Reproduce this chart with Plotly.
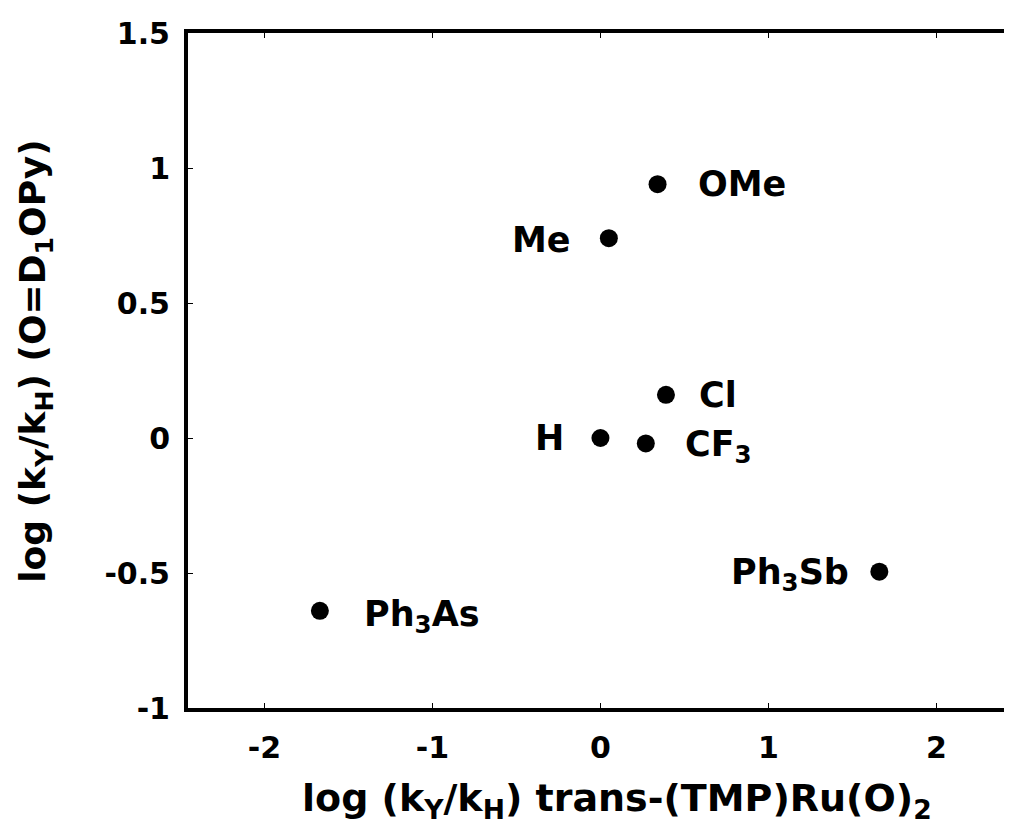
import plotly.graph_objects as go

# Data
labels = ["OMe", "Me", "Cl", "H", "CF<sub>3</sub>", "Ph<sub>3</sub>As", "Ph<sub>3</sub>Sb"]
x_vals = [0.34, 0.05, 0.39, 0.0, 0.27, -1.67, 1.66]
y_vals = [0.94, 0.74, 0.16, 0.0, -0.02, -0.64, -0.495]

x_tickvals = [-2, -1, 0, 1, 2]
x_ticktext = ["-2", "-1", "0", "1", "2"]
y_tickvals = [-1, -0.5, 0, 0.5, 1, 1.5]
y_ticktext = ["-1", "-0.5", "0", "0.5", "1", "1.5"]

x_title = "log (k<sub>Y</sub>/k<sub>H</sub>) trans-(TMP)Ru(O)<sub>2</sub>"
y_title = "log (k<sub>Y</sub>/k<sub>H</sub>) (O=D<sub>1</sub>OPy)"

# label placement (side, pixel offset)
label_side = ["left", "right", "left", "right", "left", "left", "right"]
label_dx = [38, -36, 31, -34, 37, 42, -28]
label_dy = [0, -2, 0, 0, -3, -6, -3]

FONT = "DejaVu Sans, Liberation Sans, Arial, sans-serif"

fig = go.Figure()
fig.add_trace(go.Scatter(
    x=x_vals, y=y_vals, mode="markers",
    marker=dict(size=18, color="black", line=dict(width=0)),
    showlegend=False, hoverinfo="skip",
))

for lab, xv, yv, side, dx, dy in zip(labels, x_vals, y_vals, label_side, label_dx, label_dy):
    fig.add_annotation(
        x=xv, y=yv, xref="x", yref="y", text=lab, showarrow=False,
        xanchor=side, yanchor="middle", xshift=dx, yshift=dy,
        font=dict(family=FONT, size=35, color="black", weight="bold"),
    )

# axis titles (placed as annotations for exact positioning)
fig.add_annotation(
    x=0.526, y=0, xref="paper", yref="paper", text=x_title, showarrow=False,
    xanchor="center", yanchor="top", yshift=-66,
    font=dict(family=FONT, size=38, color="black", weight="bold"),
)
fig.add_annotation(
    x=0, y=0.513, xref="paper", yref="paper", text=y_title, showarrow=False,
    textangle=-90, xanchor="center", yanchor="middle", xshift=-152,
    font=dict(family=FONT, size=36, color="black", weight="bold"),
)

fig.update_layout(
    width=996, height=817,
    margin=dict(l=180, r=0, t=25, b=117),
    paper_bgcolor="white", plot_bgcolor="white",
    font=dict(family=FONT, color="black"),
    showlegend=False,
)

fig.update_xaxes(
    range=[-2.455, 2.402],
    tickvals=x_tickvals, ticktext=x_ticktext,
    showgrid=False, zeroline=False,
    showline=True, linecolor="black", linewidth=4, mirror="ticks",
    ticks="inside", ticklen=5, tickwidth=1, tickcolor="black",
    tickfont=dict(family=FONT, size=30, color="black", weight="bold"),
    ticklabelstandoff=10,
)
fig.update_yaxes(
    range=[-1, 1.5],
    tickvals=y_tickvals, ticktext=y_ticktext,
    showgrid=False, zeroline=False,
    showline=True, linecolor="black", linewidth=4, mirror=False,
    ticks="inside", ticklen=5, tickwidth=1, tickcolor="black",
    tickfont=dict(family=FONT, size=30, color="black", weight="bold"),
    ticklabelstandoff=8,
)

fig.write_html("out.html")
